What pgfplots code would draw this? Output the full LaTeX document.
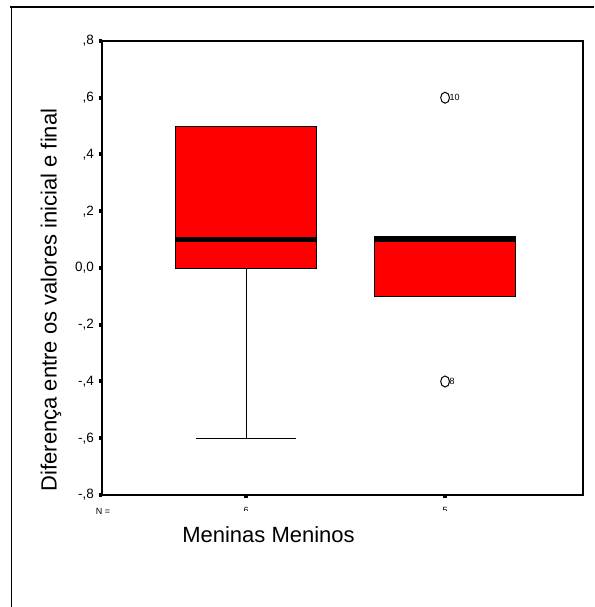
\documentclass[border=0pt]{standalone}
\usepackage{fontspec}
\setmainfont{Liberation Sans}
\usepackage{pgfplots}
\pgfplotsset{compat=1.18}
\usepgfplotslibrary{statistics}
\begin{document}
\begin{tikzpicture}[x=1pt,y=1pt]
\path[use as bounding box, fill=white] (0,0) rectangle (594,607);
\draw[line width=2.5pt] (10,600) -- (594,600);
\draw[line width=1pt] (11,601) -- (11,0);
\begin{axis}[
  at={(102pt,112pt)}, anchor=south west,
  scale only axis, width=481pt, height=454pt,
  xmin=0.276, xmax=2.693, ymin=-0.8, ymax=0.8,
  ytick={-0.8,-0.6,-0.4,-0.2,0,0.2,0.4,0.6,0.8},
  yticklabels={-{,}8,-{,}6,-{,}4,-{,}2,0{,}0,{,}2,{,}4,{,}6,{,}8},
  xtick={1,2}, xticklabels={},
  tick align=outside, xtick pos=bottom, ytick pos=left,
  major tick length=3.5pt,
  tick style={line width=4pt, black},
  axis line style={line width=1.2pt},
  yticklabel style={font=\fontsize{13.5}{14}\selectfont, xshift=-1pt},
  clip=false,
  boxplot/draw direction=y,
  boxplot/every median/.style={line width=5.5pt, black},
  boxplot/every whisker/.style={black, line width=1pt},
]
\addplot+[boxplot prepared={median=0.1, upper quartile=0.5, lower quartile=0,
   upper whisker=0.5, lower whisker=-0.6, draw position=1,
   box extend=0.71, whisker extend=0.5},
   fill=red, draw=black, solid, line width=0.8pt, mark=none] coordinates {};
\addplot+[boxplot prepared={median=0.1, upper quartile=0.11, lower quartile=-0.1,
   upper whisker=0.11, lower whisker=-0.1, draw position=2,
   box extend=0.71, whisker extend=0.5},
   fill=red, draw=black, solid, line width=0.8pt, mark=none] coordinates {};
\addplot[only marks, mark=o, mark size=5.5pt, mark options={xscale=0.8, line width=1pt, black},
   nodes near coords, point meta=explicit symbolic,
   nodes near coords style={anchor=west, font=\fontsize{9}{9}\selectfont, inner sep=0pt, xshift=4pt, yshift=0pt, black}]
   table[meta=label, row sep=\\] {x y label\\ 2 0.6 10\\ 2 -0.4 8\\};
\end{axis}
\node[rotate=90, font=\fontsize{22}{24}\selectfont] at (51,307) {Diferença entre os valores inicial e final};
\node[font=\fontsize{22}{24}\selectfont] at (268.5,72) {Meninas Meninos};
\node[font=\fontsize{9}{9}\selectfont, anchor=base] at (103,92) {N =};
\begin{scope}
\clip (0,96.5) rectangle (594,100);
\node[font=\fontsize{9}{9}\selectfont, anchor=base] at (246,93) {6};
\node[font=\fontsize{9}{9}\selectfont, anchor=base] at (445,93) {5};
\end{scope}
\end{tikzpicture}
\end{document}
